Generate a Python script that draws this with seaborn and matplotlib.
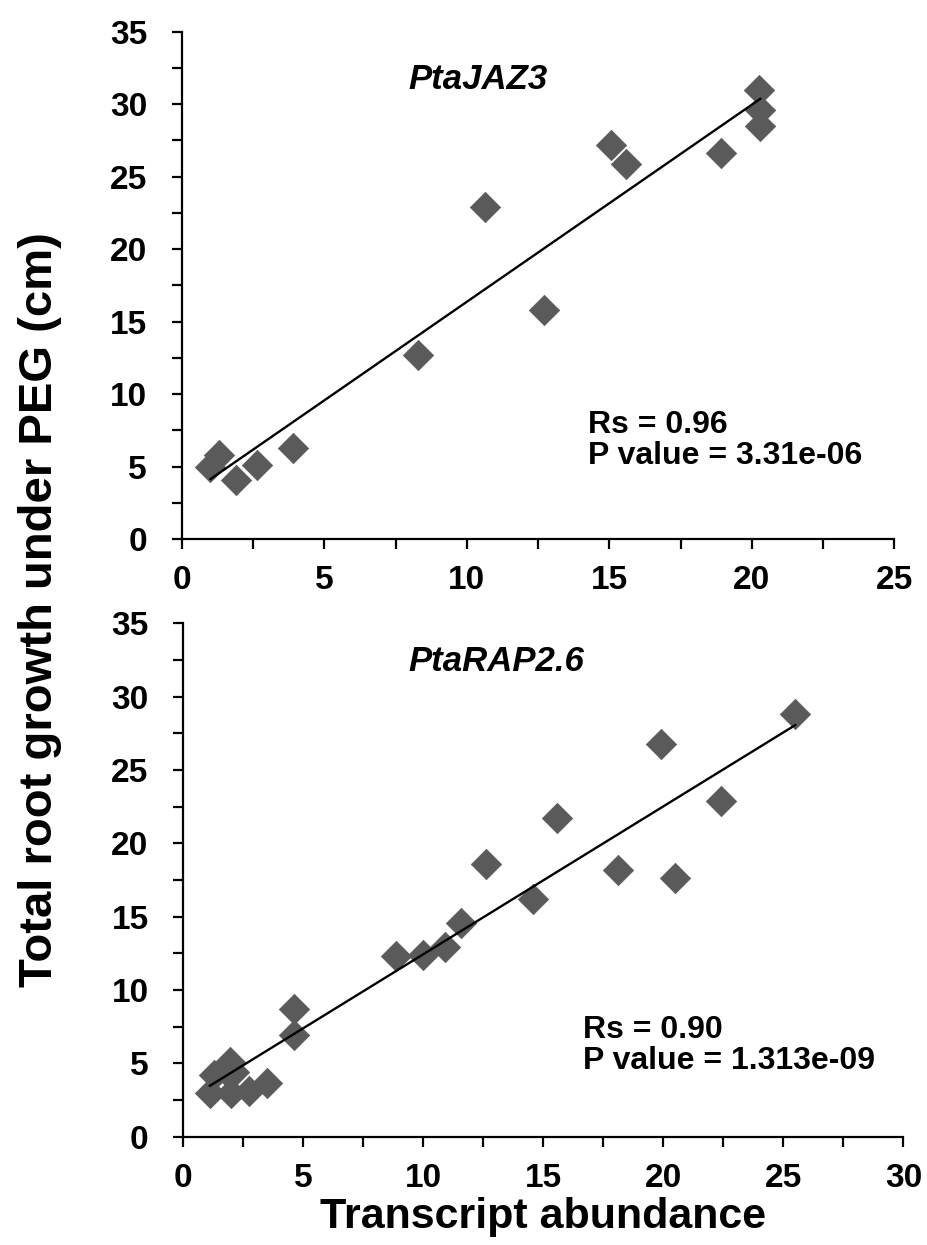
import matplotlib
matplotlib.use("Agg")
import matplotlib.pyplot as plt
import seaborn as sns
import pandas as pd
from matplotlib.ticker import MultipleLocator

# ---- data ----
jaz3_x = [1.0, 1.3, 1.9, 2.65, 3.9, 8.3, 10.65, 12.7, 15.05, 15.6, 18.9, 20.25, 20.3, 20.3]
jaz3_y = [5.0, 5.8, 4.1, 5.1, 6.3, 12.7, 22.9, 15.8, 27.2, 25.9, 26.6, 31.0, 29.6, 28.5]

rap_x = [1.1, 1.3, 1.75, 1.95, 2.0, 2.1, 2.75, 3.5, 4.6, 4.6, 8.85, 10.0, 10.9,
         11.55, 12.6, 14.55, 15.55, 18.1, 19.9, 20.5, 22.4, 25.5]
rap_y = [3.0, 4.2, 4.55, 5.1, 2.95, 4.4, 3.1, 3.65, 6.95, 8.7, 12.3, 12.4, 12.9,
         14.6, 18.6, 16.2, 21.7, 18.2, 26.8, 17.6, 22.9, 28.8]

genes = ["PtaJAZ3", "PtaRAP2.6"]
stats = ["Rs = 0.96\nP value = 3.31e-06", "Rs = 0.90\nP value = 1.313e-09"]
x_max = [25, 30]
y_max = 35
xlabel = "Transcript abundance"
ylabel = "Total root growth under PEG (cm)"

sns.set_style("ticks")
plt.rcParams['font.family'] = ['Liberation Sans', 'DejaVu Sans']
plt.rcParams['text.color'] = 'black'
plt.rcParams['axes.labelcolor'] = 'black'
plt.rcParams['xtick.color'] = 'black'
plt.rcParams['ytick.color'] = 'black'

fig = plt.figure(figsize=(9.28, 12.45), dpi=100)
ax1 = fig.add_axes([0.1958, 0.567, 0.768, 0.4076])
ax2 = fig.add_axes([0.1975, 0.087, 0.776, 0.4124])

dfs = [pd.DataFrame({"x": jaz3_x, "y": jaz3_y}),
       pd.DataFrame({"x": rap_x, "y": rap_y})]

gene_pos = [(7.95, 31.7), (9.36, 32.4)]
stat_pos = [(14.25, 6.8), (16.65, 6.2)]

for ax, df, g, st, xm, gp, sp in zip([ax1, ax2], dfs, genes, stats, x_max, gene_pos, stat_pos):
    sns.regplot(data=df, x="x", y="y", ax=ax, ci=None, marker="D",
                scatter_kws=dict(s=240, color="#5a5a5a", edgecolor="#5a5a5a",
                                 linewidths=0.5, alpha=1, zorder=2),
                line_kws=dict(color="black", lw=1.7, zorder=3))
    ax.set_xlim(0, xm)
    ax.set_ylim(0, y_max)
    ax.xaxis.set_major_locator(MultipleLocator(5))
    ax.xaxis.set_minor_locator(MultipleLocator(2.5))
    ax.yaxis.set_major_locator(MultipleLocator(5))
    ax.yaxis.set_minor_locator(MultipleLocator(2.5))
    ax.tick_params(which="both", direction="out", length=7, width=1.6, color="black",
                   labelsize=24, labelcolor="black")
    ax.tick_params(axis="x", pad=12)
    ax.tick_params(axis="y", pad=18)
    for lab in ax.get_xticklabels() + ax.get_yticklabels():
        lab.set_fontweight("bold")
    sns.despine(ax=ax)
    for s in ["left", "bottom"]:
        ax.spines[s].set_linewidth(1.6)
        ax.spines[s].set_color("black")
    ax.set_xlabel("")
    ax.set_ylabel("")
    ax.text(gp[0], gp[1], g, fontsize=25, fontstyle="italic", fontweight="bold",
            va="center", ha="left", color="black")
    ax.text(sp[0], sp[1], st, fontsize=23, fontweight="bold", va="center", ha="left",
            linespacing=1.05, color="black")

ax2.set_xlabel(xlabel, fontsize=31, fontweight="bold", labelpad=2, color="black")
fig.text(0.043, 0.51, ylabel, rotation=90, fontsize=34, fontweight="bold",
         ha="center", va="center", color="black")

fig.savefig("out.png", dpi=100)
